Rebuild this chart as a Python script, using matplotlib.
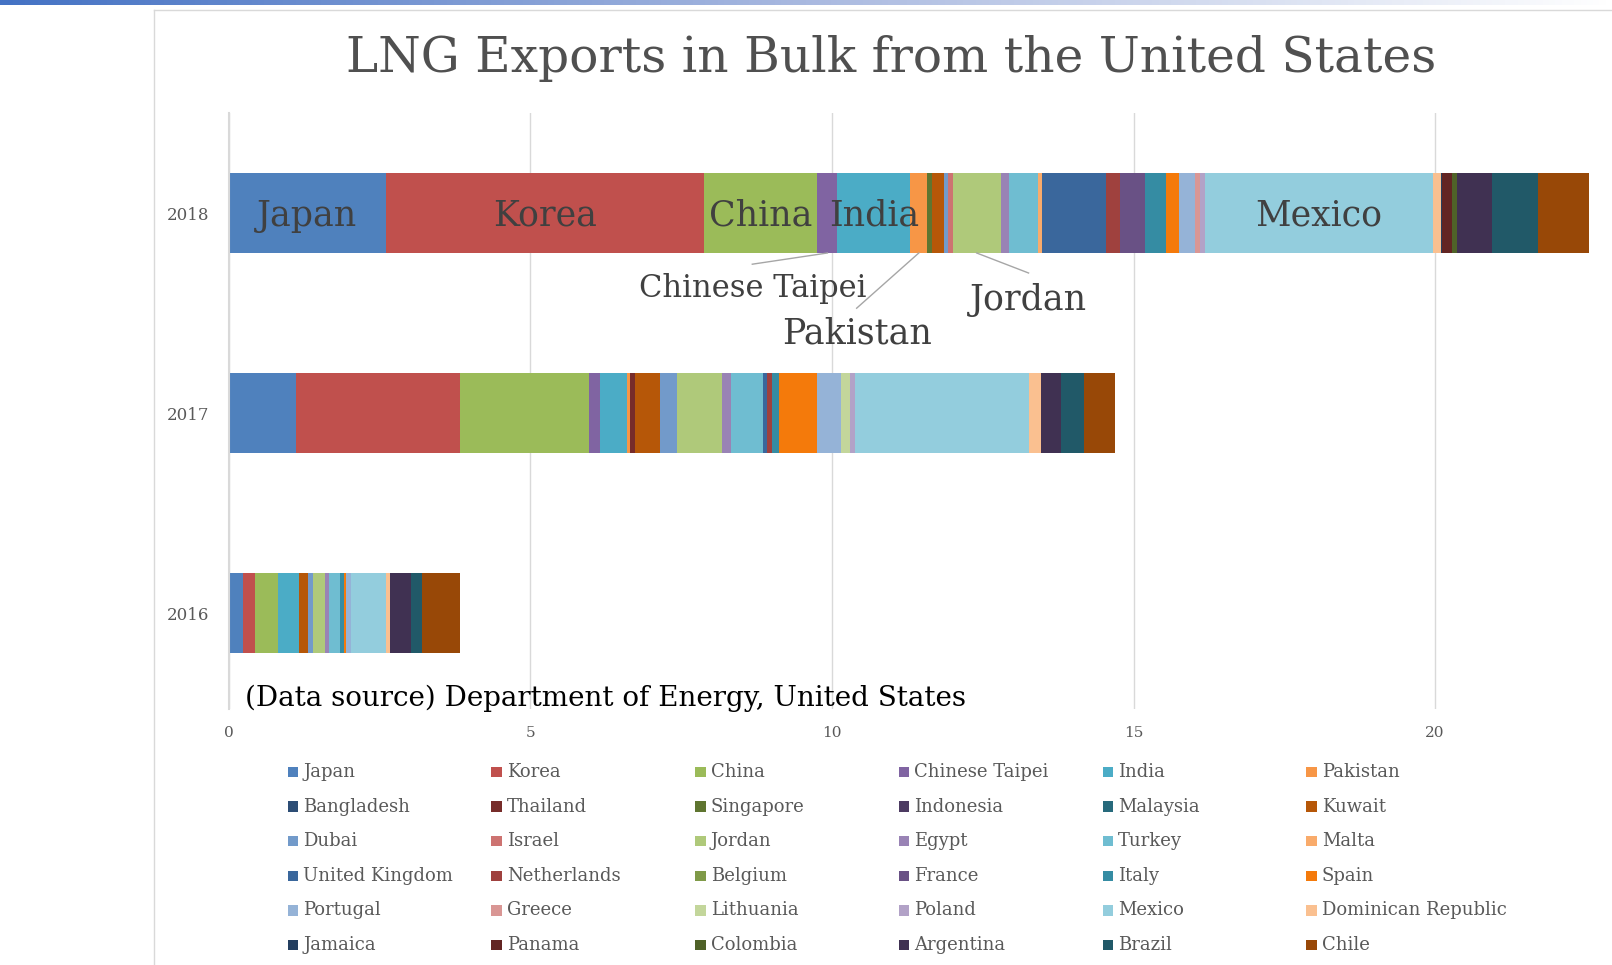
import numpy as np
import matplotlib.pyplot as plt
from matplotlib.patches import Rectangle
from matplotlib.lines import Line2D
from matplotlib.colors import LinearSegmentedColormap

# countries in legend / stacking order
countries = ["Japan", "Korea", "China", "Chinese Taipei", "India", "Pakistan",
             "Bangladesh", "Thailand", "Singapore", "Indonesia", "Malaysia", "Kuwait",
             "Dubai", "Israel", "Jordan", "Egypt", "Turkey", "Malta",
             "United Kingdom", "Netherlands", "Belgium", "France", "Italy", "Spain",
             "Portugal", "Greece", "Lithuania", "Poland", "Mexico", "Dominican Republic",
             "Jamaica", "Panama", "Colombia", "Argentina", "Brazil", "Chile"]

colors = ["#4F81BD", "#C0504D", "#9BBB59", "#8064A2", "#4BACC6", "#F79646",
          "#2C4D75", "#772C2A", "#5F7530", "#4D3B62", "#276A7C", "#B65708",
          "#729ACA", "#CD7371", "#AFC97A", "#9983B5", "#6FBDD1", "#F9AB6B",
          "#3A679C", "#9F413E", "#7F9A48", "#695185", "#358CA3", "#F47A0B",
          "#95B3D7", "#D99694", "#C3D69B", "#B2A2C7", "#93CDDD", "#FAC090",
          "#243F60", "#632523", "#4F6228", "#403152", "#215968", "#984807"]

years = ["2016", "2017", "2018"]

v2016 = [0.23, 0.20, 0.39, 0, 0.34, 0,
         0, 0, 0, 0, 0, 0.15,
         0.08, 0, 0.20, 0.07, 0.18, 0,
         0, 0, 0, 0, 0.07, 0.04,
         0.08, 0, 0, 0, 0.58, 0.07,
         0, 0, 0, 0.35, 0.18, 0.62]

v2017 = [1.11, 2.72, 2.15, 0.17, 0.45, 0.055,
         0, 0.077, 0, 0, 0, 0.42,
         0.275, 0, 0.75, 0.15, 0.53, 0,
         0.072, 0.077, 0, 0, 0.12, 0.63,
         0.40, 0, 0.15, 0.077, 2.89, 0.20,
         0, 0, 0, 0.325, 0.375, 0.52]

v2018 = [2.60, 5.28, 1.88, 0.33, 1.21, 0.28,
         0, 0, 0.08, 0, 0, 0.19,
         0.07, 0.08, 0.80, 0.14, 0.47, 0.08,
         1.05, 0.24, 0, 0.41, 0.35, 0.22,
         0.26, 0.08, 0, 0.08, 3.79, 0.12,
         0.02, 0.17, 0.09, 0.57, 0.76, 0.85]

inbar_labels = ["Japan", "Korea", "China", "India", "Mexico"]
# callouts: (country, line end x, line end y, text y, font size)
callouts = [("Chinese Taipei", 8.68, 1.744, 1.62, 22),
            ("Pakistan", 10.41, 1.524, 1.395, 25),
            ("Jordan", 13.26, 1.70, 1.565, 25)]

plt.rcParams['font.family'] = ["DejaVu Serif"]

fig = plt.figure(figsize=(16.12, 9.65), dpi=100)

# gradient strip at top
gax = fig.add_axes([0, 1 - 5 / 965, 1, 5 / 965])
grad = np.linspace(0, 1, 256).reshape(1, -1)
cm = LinearSegmentedColormap.from_list("g", ["#4472C4", "#A9B9E0", "#FFFFFF"])
gax.imshow(grad, aspect='auto', cmap=cm)
gax.axis('off')

# chart area border (left + top)
fig.add_artist(Line2D([154 / 1612, 154 / 1612], [0, 1 - 10 / 965], color="#D9D9D9", lw=1))
fig.add_artist(Line2D([154 / 1612, 1], [1 - 10 / 965, 1 - 10 / 965], color="#D9D9D9", lw=1))

ax = fig.add_axes([228.7 / 1612, 1 - 709 / 965, (1598 - 228.7) / 1612, (709 - 113) / 965])

data = np.array([v2016, v2017, v2018])
ypos = np.arange(len(years))
left = np.zeros(len(years))
for i, name in enumerate(countries):
    w = data[:, i]
    ax.barh(ypos, w, left=left, height=0.4, color=colors[i], linewidth=0)
    mid = left[2] + w[2] / 2
    if name in inbar_labels:
        ax.text(mid, 1.985, name, ha='center', va='center',
                fontsize=25, color="#404040")
    for cname, lx, ly, ty, fs in callouts:
        if cname == name:
            ax.plot([mid, lx], [1.8, ly], color="#A6A6A6", lw=1)
            ax.text(lx, ty, cname, ha='center', va='center', fontsize=fs, color="#404040")
    left += w

ax.set_xlim(0, 22.7)
ax.set_ylim(-0.48, 2.5)
ax.set_yticks(ypos)
ax.set_yticklabels(years, fontsize=12, color="#595959")
ax.set_xticks([0, 5, 10, 15, 20])
ax.tick_params(axis='x', labelsize=11, labelcolor="#595959", length=0, pad=12)
ax.tick_params(axis='y', length=0, pad=14)
ax.grid(axis='x', color="#D9D9D9", lw=1)
ax.set_axisbelow(True)
for s in ['top', 'right', 'bottom']:
    ax.spines[s].set_visible(False)
ax.spines['left'].set_color("#D9D9D9")
ax.spines['left'].set_linewidth(1.5)

ax.text(0.27, -0.425, "(Data source) Department of Energy, United States",
        fontsize=20, color="black", va='center', ha='left')

fig.text(0.553, 1 - 58 / 965, "LNG Exports in Bulk from the United States",
         ha='center', va='center', fontsize=35, color="#505050")

# legend, row-major, fixed column positions
W, H = 1612, 965
for k, name in enumerate(countries):
    r, c = divmod(k, 6)
    x0 = 287.8 + 203.7 * c
    yc = 772 + 34.6 * r
    fig.add_artist(Rectangle((x0 / W, 1 - (yc + 5.2) / H), 10.5 / W, 10.5 / H,
                             facecolor=colors[k], edgecolor='none'))
    fig.text((x0 + 15.5) / W, 1 - yc / H, name, fontsize=13, color="#595959",
             va='center', ha='left')

plt.savefig("out.png", dpi=100)
